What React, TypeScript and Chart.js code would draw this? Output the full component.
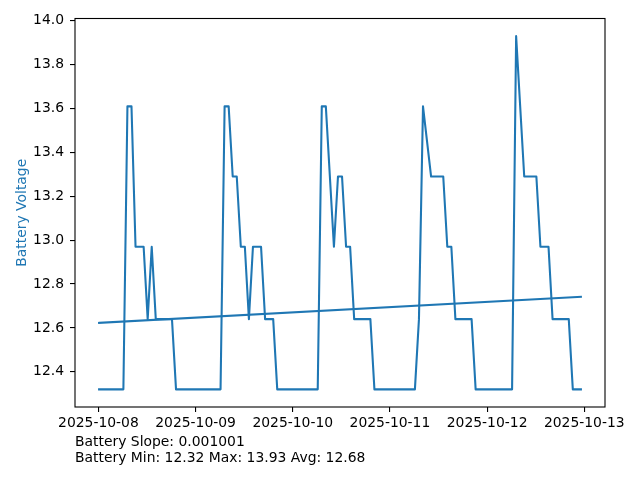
import React, { useEffect, useRef } from 'react';
import { Chart, registerables } from 'chart.js';

Chart.register(...registerables);

// ---- data ----
const SAMPLE_MINUTE = 10; // samples are logged at hh:10
const VERTEX_HOURS = [
  0, 6, 7, 8, 9, 11, 12, 13, 14, 18,
  19, 30, 31, 32, 33, 34, 35, 36, 37, 38,
  40, 41, 43, 44, 54, 55, 56, 58, 59, 60,
  61, 62, 63, 67, 68, 78, 79, 80, 82, 85,
  86, 87, 88, 92, 93, 102, 103, 105, 108, 109,
  111, 112, 116, 117, 119,
];
const VOLTAGES = [
  12.32, 12.32, 13.61, 13.61, 12.97, 12.97, 12.64, 12.97, 12.64, 12.64,
  12.32, 12.32, 13.61, 13.61, 13.29, 13.29, 12.97, 12.97, 12.64, 12.97,
  12.97, 12.64, 12.64, 12.32, 12.32, 13.61, 13.61, 12.97, 13.29, 13.29,
  12.97, 12.97, 12.64, 12.64, 12.32, 12.32, 12.64, 13.61, 13.29, 13.29,
  12.97, 12.97, 12.64, 12.64, 12.32, 12.32, 13.93, 13.29, 13.29, 12.97,
  12.97, 12.64, 12.64, 12.32, 12.32,
];
const TREND_HOURS = [0, 119];
const TREND_VALUES = [12.623, 12.742];

const DATE_TICKS = ['2025-10-08', '2025-10-09', '2025-10-10', '2025-10-11', '2025-10-12', '2025-10-13'];
const DAY_TICK_VALUES = [0, 1, 2, 3, 4, 5];
const Y_TICKS = [12.4, 12.6, 12.8, 13.0, 13.2, 13.4, 13.6, 13.8, 14.0];

const Y_TITLE = 'Battery Voltage';
const SLOPE_TEXT = 'Battery Slope: 0.001001';
const STATS_MIN = '12.32';
const STATS_MAX = '13.93';
const STATS_AVG = '12.68';

// ---- styling ----
const BLUE = '#1f77b4';
const FONT_FAMILY = '"DejaVu Sans", sans-serif';
const FONT_SIZE = 13.9;

const toDays = (h: number) => (h + SAMPLE_MINUTE / 60) / 24;

export default function App() {
  const canvasRef = useRef<HTMLCanvasElement | null>(null);

  useEffect(() => {
    const canvas = canvasRef.current;
    if (!canvas) return;

    const series = VERTEX_HOURS.map((h, i) => ({ x: toDays(h), y: VOLTAGES[i] }));
    const trend = TREND_HOURS.map((h, i) => ({ x: toDays(h), y: TREND_VALUES[i] }));

    const xs = series.map((p) => p.x);
    const ys = series.map((p) => p.y);
    const xMinD = Math.min(...xs);
    const xMaxD = Math.max(...xs);
    const yMinD = Math.min(...ys);
    const yMaxD = Math.max(...ys);
    const xm = (xMaxD - xMinD) * 0.05;
    const ym = (yMaxD - yMinD) * 0.05;

    const decorPlugin = {
      id: 'decor',
      afterDraw(chart: any) {
        const { ctx, chartArea: a } = chart;
        ctx.save();
        ctx.strokeStyle = '#000';
        ctx.lineWidth = 1.1;
        ctx.strokeRect(a.left, a.top, a.right - a.left, a.bottom - a.top);
        ctx.restore();

        ctx.save();
        ctx.font = `${FONT_SIZE}px ${FONT_FAMILY}`;
        ctx.fillStyle = BLUE;
        ctx.translate(25.5, (a.top + a.bottom) / 2);
        ctx.rotate(-Math.PI / 2);
        ctx.textAlign = 'center';
        ctx.textBaseline = 'alphabetic';
        ctx.fillText(Y_TITLE, 0, 0);
        ctx.restore();

        ctx.save();
        ctx.font = `${FONT_SIZE}px ${FONT_FAMILY}`;
        ctx.fillStyle = '#000';
        ctx.textAlign = 'left';
        ctx.textBaseline = 'alphabetic';
        ctx.fillText(SLOPE_TEXT, 75, 446);
        ctx.fillText(`Battery Min: ${STATS_MIN} Max: ${STATS_MAX} Avg: ${STATS_AVG}`, 75, 462);
        ctx.restore();
      },
    };

    const tickFont = { family: FONT_FAMILY, size: FONT_SIZE, lineHeight: 1.2 };

    const chart = new Chart(canvas, {
      type: 'line',
      data: {
        datasets: [
          {
            data: series,
            borderColor: BLUE,
            borderWidth: 2.08,
            pointRadius: 0,
            tension: 0,
            fill: false,
            borderCapStyle: 'square',
            borderJoinStyle: 'round',
          },
          {
            data: trend,
            borderColor: BLUE,
            borderWidth: 2.08,
            pointRadius: 0,
            tension: 0,
            fill: false,
            borderCapStyle: 'square',
            borderJoinStyle: 'round',
          },
        ],
      },
      options: {
        responsive: false,
        animation: false,
        events: [],
        layout: { padding: { left: 0, top: 18.5, right: 35, bottom: 0 } },
        plugins: {
          legend: { display: false },
          tooltip: { enabled: false },
          title: { display: false },
        },
        scales: {
          x: {
            type: 'linear',
            min: xMinD - xm,
            max: xMaxD + xm,
            afterFit: (s: any) => {
              s.height = 73;
            },
            afterBuildTicks: (s: any) => {
              s.ticks = DAY_TICK_VALUES.map((v) => ({ value: v }));
            },
            ticks: {
              autoSkip: false,
              maxRotation: 0,
              minRotation: 0,
              padding: 3,
              color: '#000',
              font: tickFont,
              callback: (v: any) => DATE_TICKS[Math.round(Number(v))] ?? '',
            },
            grid: {
              display: true,
              drawOnChartArea: false,
              drawTicks: true,
              tickLength: 5,
              color: '#000',
              lineWidth: 1.1,
            },
            border: { display: false },
          },
          y: {
            type: 'linear',
            min: yMinD - ym,
            max: yMaxD + ym,
            afterFit: (s: any) => {
              s.width = 75;
            },
            afterBuildTicks: (s: any) => {
              s.ticks = Y_TICKS.map((v) => ({ value: v }));
            },
            ticks: {
              autoSkip: false,
              padding: 6,
              color: '#000',
              font: tickFont,
              callback: (v: any) => Number(v).toFixed(1),
            },
            grid: {
              display: true,
              drawOnChartArea: false,
              drawTicks: true,
              tickLength: 5,
              color: '#000',
              lineWidth: 1.1,
            },
            border: { display: false },
          },
        },
      },
      plugins: [decorPlugin],
    } as any);

    return () => {
      chart.destroy();
    };
  }, []);

  return (
    <canvas
      ref={canvasRef}
      width={640}
      height={480}
      style={{ position: 'fixed', left: 0, top: 0, width: 640, height: 480, background: '#fff' }}
    />
  );
}
